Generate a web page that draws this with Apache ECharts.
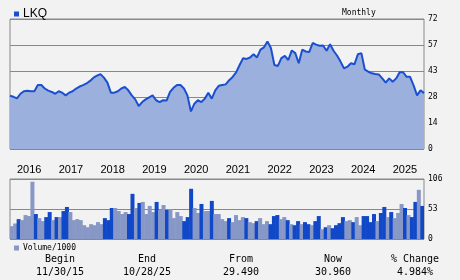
<!DOCTYPE html>
<html><head><meta charset="utf-8">
<script src="https://cdn.jsdelivr.net/npm/echarts@6/dist/echarts.min.js"></script>
<style>html,body{margin:0;padding:0;background:#f2f2f2}#c{width:460px;height:280px}</style>
</head><body><div id="c"></div>
<script>
var ticker = 'LKQ';
var startYear = 2015, startMonth = 11; // Nov 2015
var prices = [29.49,28.9,28.0,30.6,32.0,32.3,32.0,32.0,35.4,35.4,33.5,32.3,31.6,30.6,32.0,31.2,29.7,31.2,32.0,33.5,
34.6,35.4,36.3,37.7,39.5,40.6,41.5,39.5,36.8,31.2,31.2,32.0,33.5,34.4,32.5,29.7,27.5,23.8,26.0,27.5,
28.6,29.7,27.0,26.0,27.0,26.8,31.6,33.9,35.4,35.4,33.5,29.7,20.8,25.1,27.0,26.0,27.9,31.2,27.9,32.5,
35.0,35.4,35.8,38.1,39.9,42.4,46.5,50.3,49.9,50.7,52.5,50.7,55.0,56.3,59.6,55.9,46.5,46.0,50.3,51.6,
49.3,54.6,53.1,47.5,55.0,54.0,53.7,58.7,57.8,57.2,57.3,54.4,58.1,54.4,51.8,48.4,44.7,45.6,47.5,46.9,
52.5,53.1,43.9,42.8,41.9,41.5,41.3,39.1,36.7,39.1,37.2,39.1,42.5,42.5,40.0,40.0,35.3,29.7,32.5,30.96];
var volumes = [22.6,27.4,35.1,33.3,42.3,40.5,101.2,44.1,36.9,31.6,38.7,47.6,33.3,38.7,38.7,49.4,56.6,47.6,33.3,35.1,
33.3,24.4,20.8,26.2,24.4,29.8,26.2,36.9,33.3,54.8,54.8,49.4,44.1,47.6,44.1,79.8,54.8,63.7,65.5,44.1,
58.4,47.6,65.5,51.2,60.1,51.2,53.0,36.9,47.6,40.5,31.6,38.7,88.7,54.8,45.9,61.9,49.4,49.4,67.3,44.1,
44.1,35.1,31.6,36.9,29.8,42.3,33.3,38.7,36.9,29.8,28.0,31.6,36.9,26.2,31.6,26.2,40.5,42.3,35.1,38.7,
33.3,26.2,24.4,31.6,26.2,29.8,26.2,24.4,31.6,40.5,17.3,20.8,24.4,19.1,24.4,28.0,38.7,31.6,33.3,29.8,
38.7,24.4,40.5,40.5,29.8,44.1,31.6,45.9,56.6,38.7,47.6,36.9,45.9,61.9,54.8,42.3,38.7,65.5,86.9,58.4];
var volumeRising = [0,0,1,0,0,0,0,1,0,0,1,1,0,1,0,1,1,0,0,0,
0,0,0,0,0,0,0,1,1,1,0,0,0,0,1,1,0,1,0,0,
0,0,1,0,0,1,0,0,0,0,1,1,1,0,0,1,0,0,1,0,
0,0,0,1,0,0,0,0,1,0,0,1,0,0,0,1,1,1,0,0,
1,0,1,1,0,1,1,0,1,1,0,1,0,1,1,1,1,0,0,1,
0,0,1,1,1,1,0,1,1,0,1,0,0,0,1,0,1,1,0,1];
var priceTicks = [0,14.4,28.8,43.2,57.6,72];
var volumeTicks = [0,53,106];
var statLabels = ['Begin','End','From','Now','% Change'];
var statValues = ['11/30/15','10/28/25','29.490','30.960','4.984%'];

var months = [];
for (var i = 0; i < prices.length; i++) {
  var m = startMonth - 1 + i;
  var y = startYear + Math.floor(m / 12);
  months.push(y + '-' + String(m % 12 + 1).padStart(2, '0'));
}

var DARK = '#1148c8', LIGHT = '#8797c6', LINE = '#1a4fd0', AREA = '#9cb0de', GRID = '#888888';
var mono = '"DejaVu Sans Mono", "Liberation Mono", monospace';

var chart = echarts.init(document.getElementById('c'), null, {renderer: 'canvas'});
var statColX = [60, 147, 241, 333, 415];
var graphics = [];
statLabels.forEach(function (t, k) {
  graphics.push({type: 'text', x: statColX[k], y: 254, style: {text: t, font: '10px ' + mono, fill: '#000', align: 'center', verticalAlign: 'top'}});
  graphics.push({type: 'text', x: statColX[k], y: 267, style: {text: statValues[k], font: '10px ' + mono, fill: '#000', align: 'center', verticalAlign: 'top'}});
});

chart.setOption({
  backgroundColor: '#f2f2f2',
  animation: false,
  title: {text: 'Monthly', left: 337, top: 4, textStyle: {fontFamily: mono, fontSize: 8, fontWeight: 'normal', color: '#000'}},
  legend: [
    {data: [ticker], left: 9, top: 3, icon: 'rect', itemWidth: 5, itemHeight: 5, itemGap: 4,
     textStyle: {fontFamily: '"Liberation Sans", Arial, sans-serif', fontSize: 12, color: '#000', padding: [0,0,0,-1]}},
    {data: ['Volume/1000'], left: 9, top: 239, icon: 'rect', itemWidth: 5, itemHeight: 5, itemGap: 4,
     textStyle: {fontFamily: mono, fontSize: 8, color: '#000', padding: [0,0,0,-1]}}
  ],
  grid: [
    {left: 10, top: 19, width: 414, height: 130, show: true, borderColor: GRID, borderWidth: 1, backgroundColor: '#f2f2f2'},
    {left: 10, top: 179, width: 414, height: 60, show: true, borderColor: GRID, borderWidth: 1, backgroundColor: '#f2f2f2'}
  ],
  xAxis: [
    {type: 'category', gridIndex: 0, data: months, boundaryGap: false,
     axisLine: {show: false}, axisTick: {show: false}, splitLine: {show: false},
     axisLabel: {
       interval: function (idx, val) { return val.slice(5) === '01'; },
       formatter: function (val) { return val.slice(0, 4); },
       align: 'left', margin: 15, fontFamily: '"Liberation Sans", Arial, sans-serif', fontSize: 11, color: '#000'
     }},
    {type: 'category', gridIndex: 1, data: months, boundaryGap: true,
     axisLine: {show: false}, axisTick: {show: false}, axisLabel: {show: false}, splitLine: {show: false}}
  ],
  yAxis: [
    {type: 'value', gridIndex: 0, position: 'right', min: priceTicks[0], max: priceTicks[priceTicks.length - 1], interval: priceTicks[1] - priceTicks[0],
     axisLine: {show: false}, axisTick: {show: false},
     splitLine: {show: true, lineStyle: {color: GRID, width: 1}},
     axisLabel: {margin: 4, fontFamily: mono, fontSize: 8, color: '#000', verticalAlign: 'middle',
       formatter: function (v) { return String(Math.floor(v + 1e-6)); }}},
    {type: 'value', gridIndex: 1, position: 'right', min: volumeTicks[0], max: volumeTicks[volumeTicks.length - 1], interval: volumeTicks[1] - volumeTicks[0],
     axisLine: {show: false}, axisTick: {show: false},
     splitLine: {show: true, lineStyle: {color: GRID, width: 1}},
     axisLabel: {margin: 4, fontFamily: mono, fontSize: 8, color: '#000'}}
  ],
  series: [
    {name: ticker, type: 'line', xAxisIndex: 0, yAxisIndex: 0, data: prices, symbol: 'none',
     color: LINE, lineStyle: {color: LINE, width: 2}, areaStyle: {color: AREA, opacity: 1}},
    {name: 'Volume/1000', type: 'bar', xAxisIndex: 1, yAxisIndex: 1, barWidth: 4,
     color: LIGHT, itemStyle: {color: LIGHT},
     data: volumes.map(function (v, k) { return {value: v, itemStyle: {color: volumeRising[k] ? DARK : LIGHT}}; })}
  ],
  graphic: graphics
});
</script></body></html>
